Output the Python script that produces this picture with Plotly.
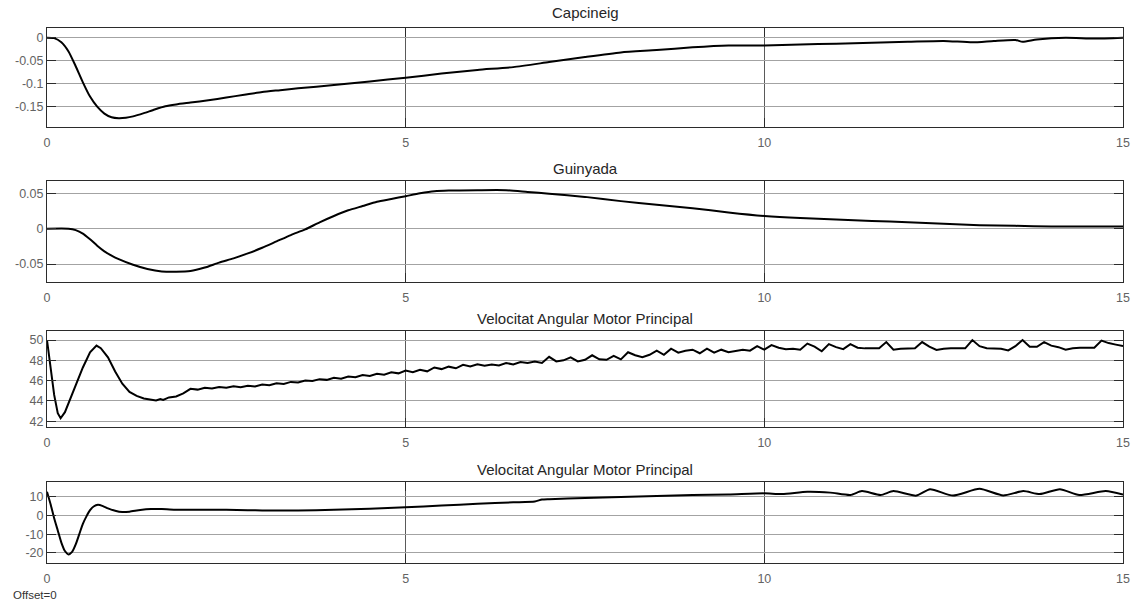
import plotly.graph_objects as go

# ---- Capcineig (pitch) ----
t_cap = [0.0, 0.1, 0.2, 0.3, 0.4, 0.5, 0.6, 0.7, 0.8, 0.9, 1.0, 1.1, 1.2, 1.35, 1.5,
         1.65, 1.8, 2.0, 2.25, 2.5, 2.75, 3.0, 3.25, 3.5, 4.0, 4.5, 5.0, 5.5, 6.0, 6.5,
         7.0, 7.5, 8.0, 8.5, 9.0, 9.5, 10.0, 10.5, 11.0, 11.5, 12.0, 12.5, 12.9, 13.2,
         13.5, 13.6, 13.8, 14.2, 14.6, 15.0]
v_cap = [0.0, -0.001, -0.010, -0.030, -0.062, -0.097, -0.128, -0.150, -0.165, -0.173,
         -0.175, -0.174, -0.171, -0.164, -0.156, -0.149, -0.145, -0.141, -0.136, -0.130,
         -0.124, -0.118, -0.114, -0.110, -0.103, -0.095, -0.087, -0.078, -0.070, -0.064,
         -0.053, -0.042, -0.032, -0.027, -0.021, -0.017, -0.017, -0.015, -0.013, -0.011,
         -0.009, -0.007, -0.010, -0.007, -0.005, -0.009, -0.004, 0.000, -0.002, 0.000]

# ---- Guinyada (yaw) ----
t_gui = [0.0, 0.3, 0.4, 0.5, 0.6, 0.7, 0.8, 0.9, 1.0, 1.2, 1.4, 1.6, 1.8, 2.0, 2.2,
         2.4, 2.6, 2.8, 3.0, 3.2, 3.4, 3.6, 3.8, 4.0, 4.2, 4.4, 4.6, 4.8, 5.0, 5.2,
         5.4, 5.6, 6.0, 6.4, 6.7, 7.0, 7.5, 8.0, 8.5, 9.0, 9.5, 10.0, 10.5, 11.0,
         11.5, 12.0, 12.5, 13.0, 13.5, 14.0, 14.5, 15.0]
v_gui = [0.0, 0.0, -0.002, -0.007, -0.015, -0.024, -0.032, -0.038, -0.043, -0.051,
         -0.057, -0.0605, -0.061, -0.060, -0.055, -0.048, -0.042, -0.035, -0.027,
         -0.018, -0.009, -0.001, 0.009, 0.018, 0.026, 0.032, 0.038, 0.042, 0.046,
         0.050, 0.053, 0.054, 0.0545, 0.0545, 0.052, 0.0495, 0.045, 0.039, 0.034,
         0.029, 0.023, 0.018, 0.015, 0.013, 0.011, 0.009, 0.007, 0.005, 0.004, 0.003,
         0.003, 0.003]

# ---- Velocitat angular motor principal (first signal) ----
t_vel_start = [0.0, 0.05, 0.10, 0.15, 0.19, 0.25, 0.30, 0.40, 0.50, 0.60, 0.69, 0.75,
               0.85, 0.95, 1.05, 1.15, 1.25, 1.35, 1.45, 1.52, 1.58, 1.62, 1.70, 1.80,
               1.90]
v_vel_start = [50.0, 47.2, 44.6, 42.8, 42.3, 42.9, 43.8, 45.6, 47.3, 48.8, 49.45, 49.2,
               48.3, 46.9, 45.7, 44.9, 44.5, 44.25, 44.1, 44.05, 44.2, 44.1, 44.35,
               44.45, 44.75]
# sampled every 0.1 s from 2.0 s to 15.0 s
v_vel_rest = [
    45.20, 45.12, 45.30, 45.22, 45.38, 45.30, 45.45, 45.36, 45.50, 45.42,
    45.62, 45.55, 45.75, 45.68, 45.88, 45.82, 46.02, 45.96, 46.15, 46.08,
    46.28, 46.20, 46.40, 46.33, 46.55, 46.46, 46.68, 46.58, 46.82, 46.72,
    47.00, 46.84, 47.08, 46.92, 47.30, 47.14, 47.38, 47.22, 47.56, 47.40,
    47.62, 47.46, 47.60, 47.50, 47.74, 47.60, 47.84, 47.74, 47.88, 47.74,
    48.35, 47.90, 48.00, 48.30, 47.90, 48.05, 48.50, 48.10, 48.05, 48.45,
    48.10, 48.80, 48.50, 48.30, 48.55, 48.95, 48.55, 49.15, 48.75, 48.95,
    49.05, 48.70, 49.15, 48.75, 49.05, 48.80, 48.95, 49.05, 48.95, 49.40,
    49.05, 49.50, 49.25, 49.10, 49.15, 49.05, 49.65, 49.35, 48.90, 49.60,
    49.30, 49.10, 49.60, 49.25, 49.18, 49.18, 49.20, 49.80, 49.05, 49.15,
    49.18, 49.18, 49.80, 49.35, 49.02, 49.15, 49.18, 49.18, 49.18, 50.00,
    49.40, 49.20, 49.18, 49.15, 48.98, 49.40, 50.00, 49.35, 49.34, 49.80,
    49.45, 49.30, 49.05, 49.20, 49.25, 49.25, 49.25, 49.95, 49.70, 49.55,
    49.40,
]
t_vel_rest = [round(2.0 + 0.1 * k, 1) for k in range(len(v_vel_rest))]
t_vel = t_vel_start + t_vel_rest
v_vel = v_vel_start + v_vel_rest

# ---- Velocitat angular motor principal (second signal) ----
t_vel2 = [0.0, 0.05, 0.10, 0.15, 0.20, 0.25, 0.30, 0.35, 0.40, 0.45, 0.50, 0.55, 0.60,
          0.65, 0.71, 0.78, 0.85, 0.95, 1.05, 1.15, 1.30, 1.45, 1.60, 1.80, 2.0, 2.2,
          2.5, 2.8, 3.0, 3.5, 4.0, 4.5, 5.0, 5.5, 6.0, 6.5, 6.8, 6.9, 7.0, 7.5, 8.0,
          8.5, 9.0, 9.5, 10.0, 10.25, 10.6, 10.92, 11.2, 11.36, 11.62, 11.8, 12.12,
          12.31, 12.63, 13.0, 13.33, 13.61, 13.84, 14.12, 14.39, 14.76, 15.0]
v_vel2 = [12.7, 6.0, -1.5, -8.0, -14.5, -19.0, -20.8, -19.5, -15.5, -10.0, -4.5, -0.5,
          2.8, 4.8, 5.7, 5.0, 3.8, 2.5, 1.8, 2.0, 2.9, 3.4, 3.4, 3.1, 3.0, 3.1, 3.0,
          2.8, 2.7, 2.7, 3.0, 3.6, 4.4, 5.3, 6.2, 7.0, 7.5, 8.5, 8.7, 9.3, 9.9, 10.4,
          10.9, 11.2, 11.8, 11.4, 12.7, 12.2, 10.9, 13.0, 10.9, 13.0, 10.6, 14.0, 10.6,
          14.2, 10.7, 13.0, 11.4, 14.0, 10.9, 13.0, 11.2]

# ---- axis ticks ----
x_ticks = [0, 5, 10, 15]
x_ticklabels = ["0", "5", "10", "15"]
cap_ticks = [0, -0.05, -0.1, -0.15]
cap_ticklabels = ["0", "-0.05", "-0.1", "-0.15"]
gui_ticks = [0.05, 0, -0.05]
gui_ticklabels = ["0.05", "0", "-0.05"]
vel_ticks = [42, 44, 46, 48, 50]
vel_ticklabels = ["42", "44", "46", "48", "50"]
vel2_ticks = [10, 0, -10, -20]
vel2_ticklabels = ["10", "0", "-10", "-20"]

titles = ["Capcineig", "Guinyada", "Velocitat Angular Motor Principal",
          "Velocitat Angular Motor Principal"]

panels = [
    dict(t=t_cap, v=v_cap, dom=[0.815, 1.0], rng=[-0.194, 0.021],
         tv=cap_ticks, tt=cap_ticklabels, shape="spline", title_shift=5),
    dict(t=t_gui, v=v_gui, dom=[0.5258, 0.7134], rng=[-0.075, 0.067],
         tv=gui_ticks, tt=gui_ticklabels, shape="spline", title_shift=2),
    dict(t=t_vel, v=v_vel, dom=[0.2548, 0.4342], rng=[41.47, 50.92],
         tv=vel_ticks, tt=vel_ticklabels, shape="linear", title_shift=2),
    dict(t=t_vel2, v=v_vel2, dom=[0.0, 0.1508], rng=[-25.4, 17.7],
         tv=vel2_ticks, tt=vel2_ticklabels, shape="spline", title_shift=2),
]

FONT = "Liberation Sans, Arial, sans-serif"
TICK_COLOR = "#636363"
BOX_COLOR = "#2b2b2b"

fig = go.Figure()
annotations = []
for i, p in enumerate(panels, start=1):
    sfx = "" if i == 1 else str(i)
    fig.add_trace(go.Scatter(
        x=p["t"], y=p["v"], mode="lines",
        line=dict(color="black", width=2, shape=p["shape"], smoothing=0.6),
        xaxis="x" + sfx, yaxis="y" + sfx, showlegend=False, hoverinfo="skip",
    ))
    fig.layout["xaxis" + sfx] = dict(
        domain=[0, 1], range=[0, 15], anchor="y" + sfx,
        tickvals=x_ticks, ticktext=x_ticklabels,
        showgrid=True, gridcolor="#5a5a5a", gridwidth=1, zeroline=False,
        showline=True, linecolor=BOX_COLOR, linewidth=1, mirror="ticks",
        ticks="inside", ticklen=9, tickcolor=BOX_COLOR, ticklabelstandoff=4,
        tickfont=dict(family=FONT, size=12.5, color=TICK_COLOR),
    )
    fig.layout["yaxis" + sfx] = dict(
        domain=p["dom"], range=p["rng"], anchor="x" + sfx,
        tickvals=p["tv"], ticktext=p["tt"],
        showgrid=True, gridcolor="#a3a3a3", gridwidth=1, zeroline=False,
        showline=True, linecolor=BOX_COLOR, linewidth=1, mirror="ticks",
        ticks="inside", ticklen=9, tickcolor=BOX_COLOR,
        tickfont=dict(family=FONT, size=12.5, color=TICK_COLOR),
    )
    annotations.append(dict(
        text=titles[i - 1], xref="paper", yref="paper", x=0.5, y=p["dom"][1],
        xanchor="center", yanchor="bottom", yshift=p["title_shift"], showarrow=False,
        font=dict(family=FONT, size=15, color="#262626"),
    ))

annotations.append(dict(
    text="Offset=0", xref="paper", yref="paper", x=-0.0335, y=-0.0605,
    xanchor="left", yanchor="middle", showarrow=False,
    font=dict(family=FONT, size=11.5, color="#333333"),
))

fig.update_layout(
    width=1142, height=604,
    margin=dict(l=47, r=15, t=28, b=41),
    paper_bgcolor="white", plot_bgcolor="white",
    annotations=annotations,
)

fig.write_html("out.html")
